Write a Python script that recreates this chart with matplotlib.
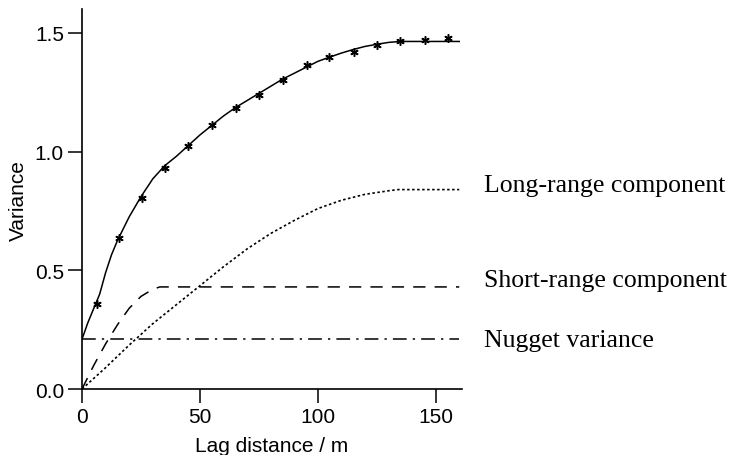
import matplotlib
matplotlib.use('Agg')
import matplotlib.pyplot as plt

# experimental variogram (asterisks)
lag_obs = [6.5, 15.7, 25.3, 35.2, 44.8, 55.3, 65.2, 75.1, 85.4, 95.3, 104.9, 115.5, 125.1, 135.0, 145.5, 155.3]
var_obs = [0.358, 0.636, 0.805, 0.930, 1.025, 1.114, 1.183, 1.240, 1.303, 1.365, 1.400, 1.421, 1.450, 1.464, 1.469, 1.478]

# fitted model (solid)
lag_fit = [0, 2.5, 5, 7.5, 10, 12.5, 15, 20, 25, 30, 35, 40, 45, 50, 55, 60, 65, 70, 75, 80,
           85, 90, 95, 100, 105, 110, 115, 120, 125, 130, 135, 160]
var_fit = [0.21, 0.28, 0.34, 0.40, 0.49, 0.565, 0.625, 0.725, 0.81, 0.885, 0.94, 0.98, 1.025, 1.07,
           1.11, 1.15, 1.185, 1.215, 1.245, 1.275, 1.305, 1.33, 1.355, 1.38, 1.398, 1.415, 1.43,
           1.443, 1.452, 1.46, 1.464, 1.464]

# short-range component (dashed)
lag_short = [0, 5, 10, 15, 20, 25, 30, 33, 160]
var_short = [0.0, 0.10, 0.19, 0.27, 0.34, 0.39, 0.42, 0.43, 0.43]

# long-range component (dotted)
lag_long = [0, 10, 20, 30, 40, 50, 60, 70, 80, 90, 100, 110, 120, 130, 134, 160]
var_long = [0.0, 0.09, 0.185, 0.275, 0.355, 0.435, 0.515, 0.59, 0.655, 0.71, 0.76, 0.795, 0.82, 0.835, 0.84, 0.84]

# nugget (dash-dot)
lag_nug = [0, 160]
var_nug = [0.21, 0.21]

labels = ['Long-range component', 'Short-range component', 'Nugget variance']
label_y = [0.834, 0.435, 0.18]

plt.rcParams['font.family'] = ['Liberation Sans', 'DejaVu Sans']

fig = plt.figure(figsize=(7.29, 4.56), dpi=100)
ax = fig.add_axes([0.1125, 0.1447, 0.5207, 0.833])

ax.plot(lag_fit, var_fit, color='black', lw=1.1)
ax.plot(lag_obs, var_obs, linestyle='none', marker=(6, 2, 0), color='black',
        markersize=6, markeredgewidth=1.1)
ax.plot(lag_short, var_short, color='black', lw=1.1, linestyle=(0, (8, 6)))
ax.plot(lag_long, var_long, color='black', lw=1.2, linestyle=(0, (1.5, 1.5)))
ax.plot(lag_nug, var_nug, color='black', lw=1.1, linestyle=(0, (9, 4, 1.5, 4)))

for txt, yy in zip(labels, label_y):
    ax.text(170.5, yy, txt, family='Liberation Serif', fontsize=18.5, va='baseline', ha='left')

ax.set_xlim(0, 161)
ax.set_ylim(0, 1.6)
ax.set_xticks([0, 50, 100, 150])
ax.set_yticks([0.0, 0.5, 1.0, 1.5])
ax.set_yticklabels(['0.0', '0.5', '1.0', '1.5'])
ax.spines['top'].set_visible(False)
ax.spines['right'].set_visible(False)
for s in ['left', 'bottom']:
    ax.spines[s].set_linewidth(1.2)
ax.tick_params(direction='out', length=10, width=1.1, labelsize=15, pad=3)
ax.set_xlabel('Lag distance / m', fontsize=15, labelpad=7)
ax.set_ylabel('Variance', fontsize=15, labelpad=5)

fig.savefig('out.png', dpi=100)
